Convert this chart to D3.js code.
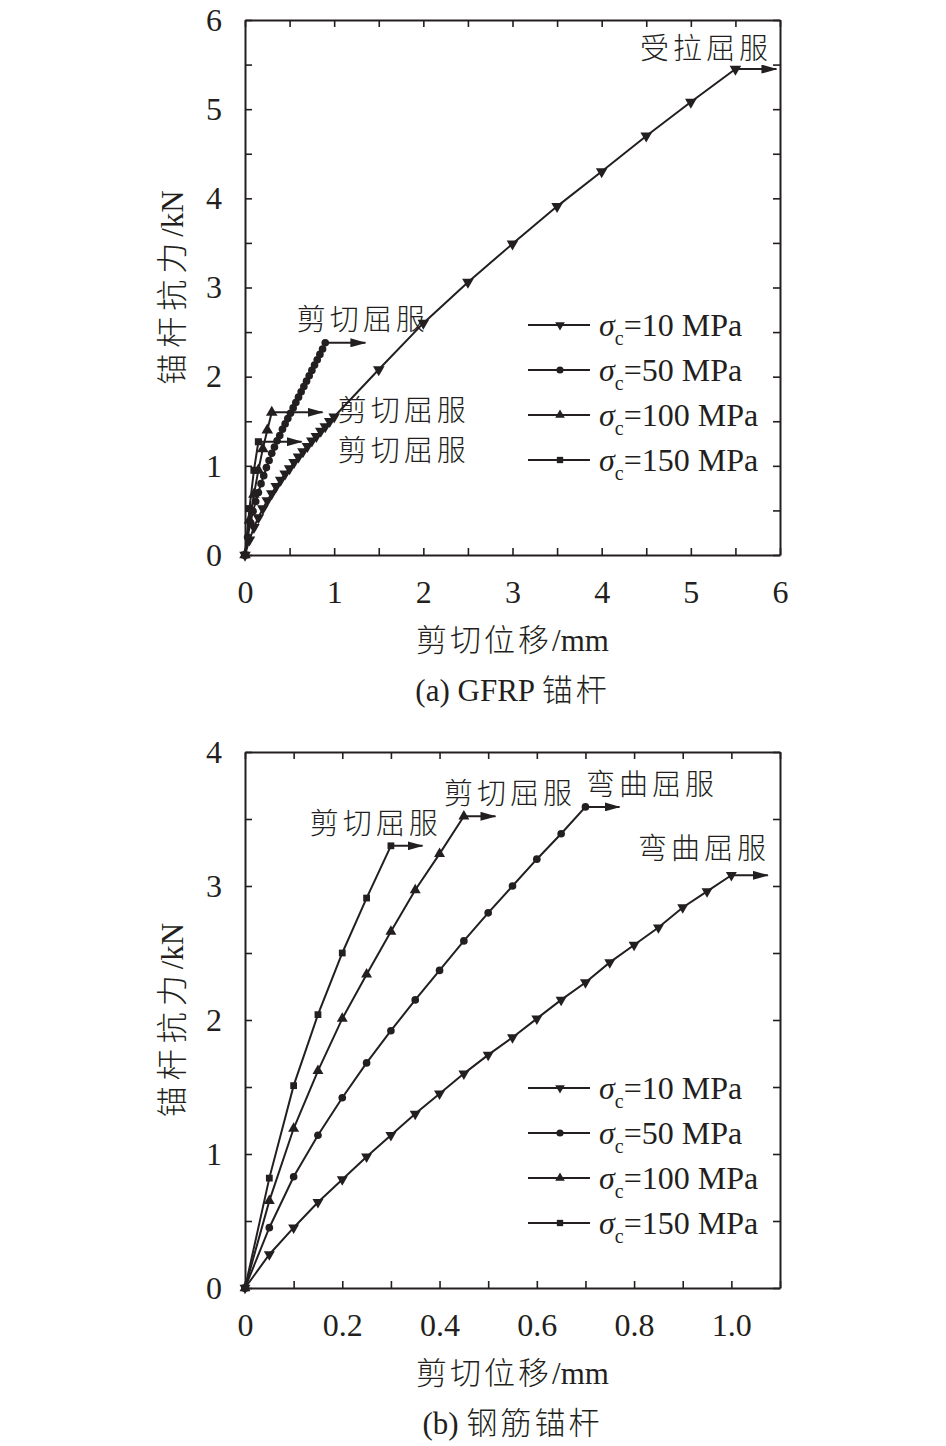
<!DOCTYPE html>
<html>
<head>
<meta charset="utf-8">
<script src="https://cdn.jsdelivr.net/npm/d3@7"></script>
<style>
  body { margin: 0; background: #fff; }
  text { fill: #231f20; }
</style>
</head>
<body>
<div id="chart"></div>
<script>
// series labels (sigma_c, MPa) and marker shapes, same order in both panels
const seriesLabels = ['10', '50', '100', '150'];
const seriesMarkers = ['down', 'circle', 'up', 'square'];

// (a) GFRP anchor
const gfrpX10 = [0, 0.05, 0.1, 0.15, 0.2, 0.25, 0.3, 0.35, 0.4, 0.45, 0.5, 0.55, 0.6, 0.65, 0.7, 0.75, 0.8, 0.85, 0.9, 0.95, 1.0, 1.5, 2.0, 2.5, 3.0, 3.5, 4.0, 4.5, 5.0, 5.5];
const gfrpY10 = [0, 0.17, 0.31, 0.42, 0.52, 0.61, 0.69, 0.77, 0.84, 0.91, 0.97, 1.04, 1.10, 1.16, 1.22, 1.28, 1.33, 1.39, 1.44, 1.50, 1.55, 2.08, 2.60, 3.06, 3.49, 3.91, 4.30, 4.70, 5.08, 5.45];
const gfrpX50 = [0, 0.03, 0.06, 0.09, 0.12, 0.15, 0.18, 0.21, 0.24, 0.27, 0.30, 0.33, 0.36, 0.39, 0.42, 0.45, 0.48, 0.51, 0.54, 0.57, 0.60, 0.63, 0.66, 0.69, 0.72, 0.75, 0.78, 0.81, 0.84, 0.87, 0.90];
const gfrpY50 = [0, 0.20, 0.36, 0.49, 0.60, 0.70, 0.80, 0.89, 0.98, 1.06, 1.14, 1.21, 1.28, 1.34, 1.41, 1.47, 1.53, 1.59, 1.65, 1.71, 1.77, 1.83, 1.89, 1.95, 2.01, 2.07, 2.13, 2.19, 2.25, 2.31, 2.38];
const gfrpX100 = [0, 0.05, 0.1, 0.15, 0.2, 0.25, 0.3];
const gfrpY100 = [0, 0.39, 0.68, 0.95, 1.19, 1.40, 1.60];
const gfrpX150 = [0, 0.05, 0.1, 0.15];
const gfrpY150 = [0, 0.52, 0.95, 1.27];
const gfrpArrowEnd = [5.96, 1.35, 0.87, 0.635];
const gfrpXLabels = ['0', '1', '2', '3', '4', '5', '6'];
const gfrpYLabels = ['0', '1', '2', '3', '4', '5', '6'];
const gfrpNotes = [
  { text: '受拉屈服', x: 4.43, y: 5.56 },
  { text: '剪切屈服', x: 0.58, y: 2.52 },
  { text: '剪切屈服', x: 1.04, y: 1.50 },
  { text: '剪切屈服', x: 1.04, y: 1.05 }
];

// (b) steel anchor
const steelX10 = [0, 0.05, 0.1, 0.15, 0.2, 0.25, 0.3, 0.35, 0.4, 0.45, 0.5, 0.55, 0.6, 0.65, 0.7, 0.75, 0.8, 0.85, 0.9, 0.95, 1.0];
const steelY10 = [0, 0.25, 0.45, 0.64, 0.81, 0.98, 1.14, 1.30, 1.45, 1.60, 1.74, 1.87, 2.01, 2.15, 2.28, 2.43, 2.56, 2.69, 2.84, 2.96, 3.08];
const steelX50 = [0, 0.05, 0.1, 0.15, 0.2, 0.25, 0.3, 0.35, 0.4, 0.45, 0.5, 0.55, 0.6, 0.65, 0.7];
const steelY50 = [0, 0.45, 0.83, 1.14, 1.42, 1.68, 1.92, 2.15, 2.37, 2.59, 2.80, 3.00, 3.20, 3.39, 3.59];
const steelX100 = [0, 0.05, 0.1, 0.15, 0.2, 0.25, 0.3, 0.35, 0.4, 0.45];
const steelY100 = [0, 0.65, 1.19, 1.62, 2.01, 2.34, 2.66, 2.97, 3.24, 3.52];
const steelX150 = [0, 0.05, 0.1, 0.15, 0.2, 0.25, 0.3];
const steelY150 = [0, 0.82, 1.51, 2.04, 2.50, 2.91, 3.30];
const steelArrowEnd = [1.075, 0.77, 0.515, 0.365];
const steelXLabels = ['0', '0.2', '0.4', '0.6', '0.8', '1.0'];
const steelYLabels = ['0', '1', '2', '3', '4'];
const steelNotes = [
  { text: '剪切屈服', x: 0.133, y: 3.39 },
  { text: '剪切屈服', x: 0.409, y: 3.61 },
  { text: '弯曲屈服', x: 0.701, y: 3.68 },
  { text: '弯曲屈服', x: 0.808, y: 3.20 }
];

const ink = '#231f20';
const serif = '"Liberation Serif", "Times New Roman", serif';
const cjk = '"Noto Sans CJK SC", sans-serif';

const svg = d3.select('#chart').append('svg')
  .attr('width', 946)
  .attr('height', 1446);

svg.append('defs').append('marker')
  .attr('id', 'arrow')
  .attr('viewBox', '0 0 16 9')
  .attr('refX', 15)
  .attr('refY', 4.5)
  .attr('markerWidth', 16)
  .attr('markerHeight', 9)
  .attr('markerUnits', 'userSpaceOnUse')
  .attr('orient', 'auto')
  .append('path')
  .attr('d', 'M0,0L16,4.5L0,9Z')
  .attr('fill', ink);

function symbolPath(kind, size) {
  const type = { down: d3.symbolTriangle, up: d3.symbolTriangle, circle: d3.symbolCircle, square: d3.symbolSquare }[kind];
  return d3.symbol().type(type).size(size)();
}

function mixedText(sel, parts, gap) {
  parts.forEach(p => {
    sel.append('tspan')
      .style('font-family', p.cjk ? cjk : serif)
      .style('font-weight', p.cjk ? 300 : 400)
      .style('letter-spacing', p.cjk ? gap + 'px' : '0px')
      .text(p.t);
  });
}

function drawPanel(p) {
  const g = svg.append('g').attr('transform', `translate(${p.left},${p.top})`);
  const x = d3.scaleLinear().domain(p.xDomain).range([0, p.width]);
  const y = d3.scaleLinear().domain(p.yDomain).range([p.height, 0]);

  const xLabelAt = {};
  p.xLabels.forEach(l => { xLabelAt[(+l).toFixed(2)] = l; });
  const yLabelAt = {};
  p.yLabels.forEach(l => { yLabelAt[(+l).toFixed(2)] = l; });
  const xMinor = d3.range(p.xDomain[0], p.xDomain[1] + 1e-6, p.xStep);
  const yMinor = d3.range(p.yDomain[0], p.yDomain[1] + 1e-6, p.yStep);

  // axes, ticks pointing inward on all four sides
  const styleAxis = a => {
    a.select('.domain').attr('stroke', ink).attr('stroke-width', 2);
    a.selectAll('.tick line').attr('stroke', ink).attr('stroke-width', 1.6);
    a.selectAll('.tick text')
      .style('font-family', serif)
      .style('font-size', '32px')
      .attr('fill', ink);
  };
  g.append('g')
    .attr('transform', `translate(0,${p.height})`)
    .call(d3.axisBottom(x).tickValues(xMinor).tickSizeInner(-7).tickSizeOuter(0).tickPadding(25)
      .tickFormat(v => xLabelAt[v.toFixed(2)] || ''))
    .call(styleAxis);
  g.append('g')
    .call(d3.axisLeft(y).tickValues(yMinor).tickSizeInner(-7).tickSizeOuter(0).tickPadding(23)
      .tickFormat(v => yLabelAt[v.toFixed(2)] || ''))
    .call(styleAxis);
  g.append('g')
    .call(d3.axisTop(x).tickValues(xMinor).tickSizeInner(-7).tickSizeOuter(0).tickFormat(''))
    .call(styleAxis);
  g.append('g')
    .attr('transform', `translate(${p.width},0)`)
    .call(d3.axisRight(y).tickValues(yMinor).tickSizeInner(-7).tickSizeOuter(0).tickFormat(''))
    .call(styleAxis);

  // curves
  const line = d3.line().x(d => x(d[0])).y(d => y(d[1]));
  p.series.forEach((s, i) => {
    const pts = s.xs.map((v, k) => [v, s.ys[k]]);
    g.append('path')
      .datum(pts)
      .attr('d', line)
      .attr('fill', 'none')
      .attr('stroke', ink)
      .attr('stroke-width', 2);
    const last = pts[pts.length - 1];
    g.append('line')
      .attr('x1', x(last[0])).attr('y1', y(last[1]))
      .attr('x2', x(p.arrowEnd[i])).attr('y2', y(last[1]))
      .attr('stroke', ink)
      .attr('stroke-width', 2)
      .attr('marker-end', 'url(#arrow)');
    const kind = seriesMarkers[i];
    g.selectAll(null)
      .data(pts)
      .enter()
      .append('path')
      .attr('d', symbolPath(kind, p.markerSize[kind]))
      .attr('transform', d => `translate(${x(d[0])},${y(d[1])})${kind === 'down' ? ' rotate(180)' : ''}`)
      .attr('fill', ink);
  });

  // legend
  seriesLabels.forEach((lab, i) => {
    const ry = p.legendTop + i * 45;
    const kind = seriesMarkers[i];
    g.append('line')
      .attr('x1', 283).attr('x2', 345)
      .attr('y1', ry).attr('y2', ry)
      .attr('stroke', ink).attr('stroke-width', 2);
    g.append('path')
      .attr('d', symbolPath(kind, 40))
      .attr('transform', `translate(315,${ry})${kind === 'down' ? ' rotate(180)' : ''}`)
      .attr('fill', ink);
    const t = g.append('text')
      .attr('x', 354).attr('y', ry + 11)
      .style('font-family', serif)
      .style('font-size', '32px');
    t.append('tspan').style('font-style', 'italic').text('σ');
    t.append('tspan').attr('dy', 9).style('font-size', '20px').text('c');
    t.append('tspan').attr('dy', -9).text(`=${lab} MPa`);
  });

  // yield annotations
  p.notes.forEach(n => {
    g.append('text')
      .attr('x', x(n.x)).attr('y', y(n.y))
      .style('font-family', cjk)
      .style('font-weight', 300)
      .style('font-size', '29px')
      .style('letter-spacing', '4px')
      .text(n.text);
  });

  // axis titles and caption
  const yt = g.append('text')
    .attr('transform', `translate(${172 - p.left},${p.height / 2}) rotate(-90)`)
    .attr('text-anchor', 'middle')
    .attr('dy', '0.35em')
    .style('font-size', '31px');
  mixedText(yt, [{ t: '锚杆抗力', cjk: true }, { t: '/kN' }], 6);

  const xt = g.append('text')
    .attr('x', p.width / 2).attr('y', p.height + 96)
    .attr('text-anchor', 'middle')
    .style('font-size', '31px');
  mixedText(xt, [{ t: '剪切位移', cjk: true }, { t: '/mm' }], 3);

  const cap = g.append('text')
    .attr('x', p.width / 2).attr('y', p.height + 146)
    .attr('text-anchor', 'middle')
    .style('font-size', '31px');
  mixedText(cap, p.caption, 3);
}

drawPanel({
  left: 245, top: 20, width: 535, height: 535,
  xDomain: [0, 6], yDomain: [0, 6], xStep: 0.5, yStep: 0.5,
  xLabels: gfrpXLabels, yLabels: gfrpYLabels,
  series: [
    { xs: gfrpX10, ys: gfrpY10 },
    { xs: gfrpX50, ys: gfrpY50 },
    { xs: gfrpX100, ys: gfrpY100 },
    { xs: gfrpX150, ys: gfrpY150 }
  ],
  arrowEnd: gfrpArrowEnd,
  markerSize: { down: 58, circle: 46, up: 58, square: 50 },
  legendTop: 305,
  notes: gfrpNotes,
  caption: [{ t: '(a) GFRP ' }, { t: '锚杆', cjk: true }]
});

drawPanel({
  left: 245, top: 752, width: 535, height: 536,
  xDomain: [0, 1.1], yDomain: [0, 4], xStep: 0.1, yStep: 0.5,
  xLabels: steelXLabels, yLabels: steelYLabels,
  series: [
    { xs: steelX10, ys: steelY10 },
    { xs: steelX50, ys: steelY50 },
    { xs: steelX100, ys: steelY100 },
    { xs: steelX150, ys: steelY150 }
  ],
  arrowEnd: steelArrowEnd,
  markerSize: { down: 52, circle: 46, up: 52, square: 46 },
  legendTop: 336,
  notes: steelNotes,
  caption: [{ t: '(b) ' }, { t: '钢筋锚杆', cjk: true }]
});
</script>
</body>
</html>
